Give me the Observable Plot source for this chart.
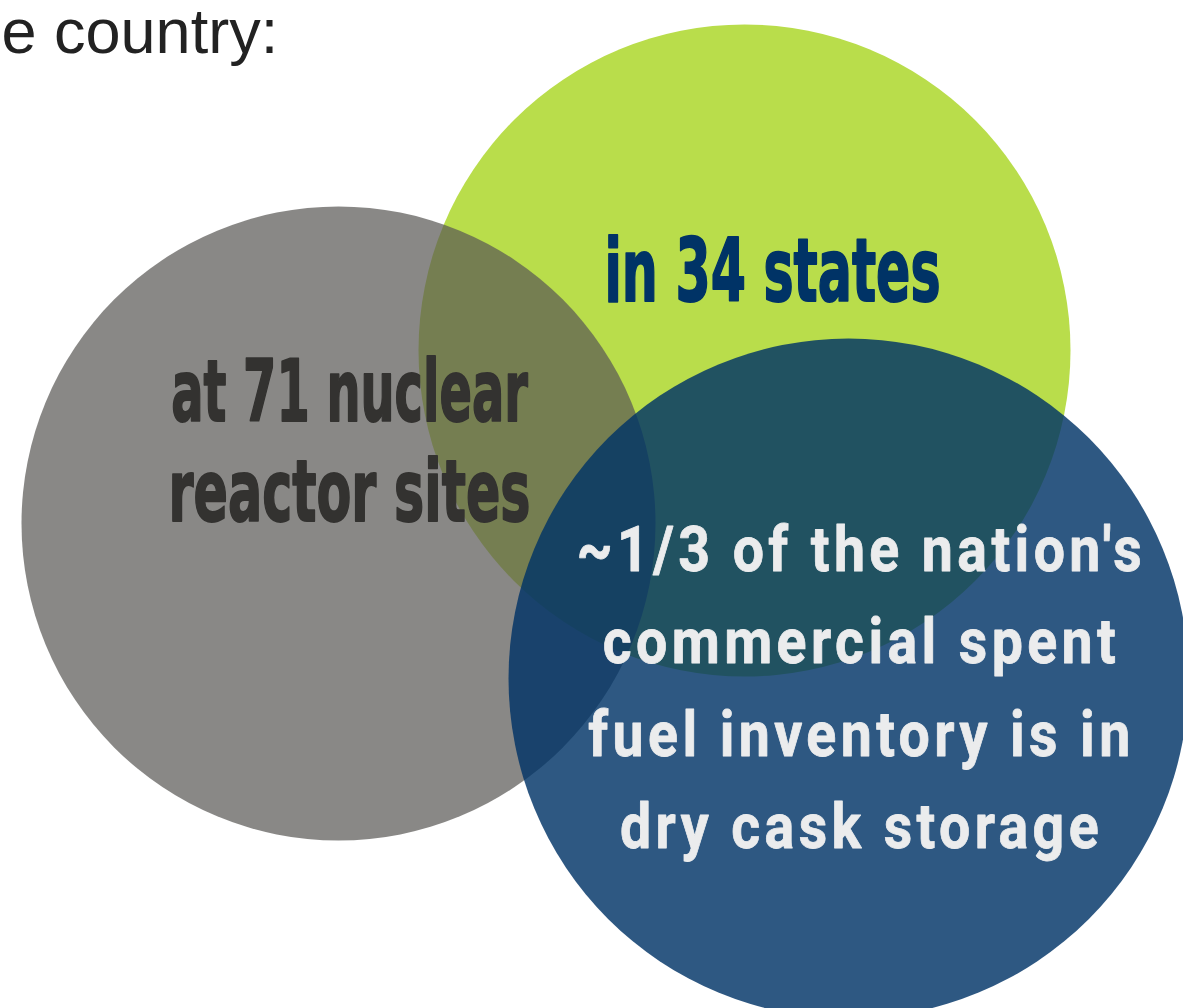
<!DOCTYPE html>
<html><head><meta charset="utf-8">
<script src="https://cdn.jsdelivr.net/npm/d3@7"></script>
<script src="https://cdn.jsdelivr.net/npm/@observablehq/plot@0.6"></script>
<style>
  html,body{margin:0;padding:0;background:#fff;overflow:hidden}
  svg{display:block}
</style>
</head><body><div id="chart"></div>
<script>
// ---- data: the three sets of the diagram (centre and radius in chart units) ----
const sets = ["reactor sites", "states", "dry cask storage"];
const setCx = [338, 744, 848];
const setCy = [523, 350, 678];
const setR  = [317, 326, 340];

// ---- label texts ----
const introText  = ["e country:"];
const grayLines  = ["at 71 nuclear", "reactor sites"];
const greenLines = ["in 34 states"];
const blueLines  = ["~1/3 of the nation's", "commercial spent", "fuel inventory is in", "dry cask storage"];

// ---- layout (label anchors, chart units) ----
const layout = {
  intro: {x: 1, y: [52]},
  gray:  {x: 349, y: [420, 520]},
  green: {x: 772, y: [300]},
  blue:  {x: 861, y: [570, 662, 755, 847]}
};
const styles = {
  "reactor sites":    {fill: "rgb(89,88,85)", opacity: 0.71},
  "states":           {fill: "#b9dd4b", opacity: 1},
  "dry cask storage": {fill: "#003366", opacity: 0.82}
};

const circles = sets.map((s, i) => ({set: s, cx: setCx[i], cy: setCy[i], r: setR[i]}));
const lines = (arr, key) => arr.map((t, i) => ({text: t, x: layout[key].x, y: layout[key].y[i]}));

const dotFor = (name) => Plot.dot(circles.filter(d => d.set === name), {
  x: "cx", y: "cy", r: "r",
  fill: styles[name].fill, fillOpacity: styles[name].opacity, stroke: "none"
});

const condensed = "'DejaVu Sans', 'Liberation Sans', sans-serif";

const svg = Plot.plot({
  width: 1183, height: 1008, margin: 0,
  x: {domain: [0, 1183], range: [0, 1183], axis: null},
  y: {domain: [0, 1008], range: [0, 1008], axis: null},
  r: {type: "identity"},
  style: {background: "#fff", overflow: "hidden"},
  marks: [
    dotFor("states"),
    dotFor("reactor sites"),
    dotFor("dry cask storage"),
    Plot.text(lines(introText, "intro"), {x: "x", y: "y", text: "text", textAnchor: "start", lineAnchor: "bottom",
      fontSize: 63, fontFamily: "'Liberation Sans', Arial, sans-serif", fill: "#222"}),
    Plot.text(lines(grayLines, "gray"), {x: "x", y: "y", text: "text", textAnchor: "middle", lineAnchor: "bottom",
      fontSize: 86, fontWeight: "bold", fontFamily: condensed, fill: "#333230", stroke: "#333230", strokeWidth: 2}),
    Plot.text(lines(greenLines, "green"), {x: "x", y: "y", text: "text", textAnchor: "middle", lineAnchor: "bottom",
      fontSize: 88, fontWeight: "bold", fontFamily: condensed, fill: "#003366", stroke: "#003366", strokeWidth: 2}),
    Plot.text(lines(blueLines, "blue"), {x: "x", y: "y", text: "text", textAnchor: "middle", lineAnchor: "bottom",
      fontSize: 63, fontWeight: "bold", fontFamily: "Roboto, 'Noto Sans', sans-serif", fill: "#ebeced",
      stroke: "#ebeced", strokeWidth: 0.8})
  ]
});

document.getElementById("chart").append(svg);

// condense the display type horizontally (font look of the original)
const condense = new Map([
  ["at 71 nuclear", {f: 0.557, ls: 0}],
  ["reactor sites", {f: 0.59, ls: 0}],
  ["in 34 states", {f: 0.575, ls: 0}],
  ...blueLines.map(t => [t, {f: 0.88, ls: 5}])
]);
svg.querySelectorAll("text").forEach(t => {
  const g = condense.get(t.textContent);
  if (!g) return;
  if (g.ls) t.style.letterSpacing = g.ls + "px";
  const n = t.getComputedTextLength();
  t.setAttribute("textLength", (n * g.f).toFixed(1));
  t.setAttribute("lengthAdjust", "spacingAndGlyphs");
});
</script>
</body></html>
